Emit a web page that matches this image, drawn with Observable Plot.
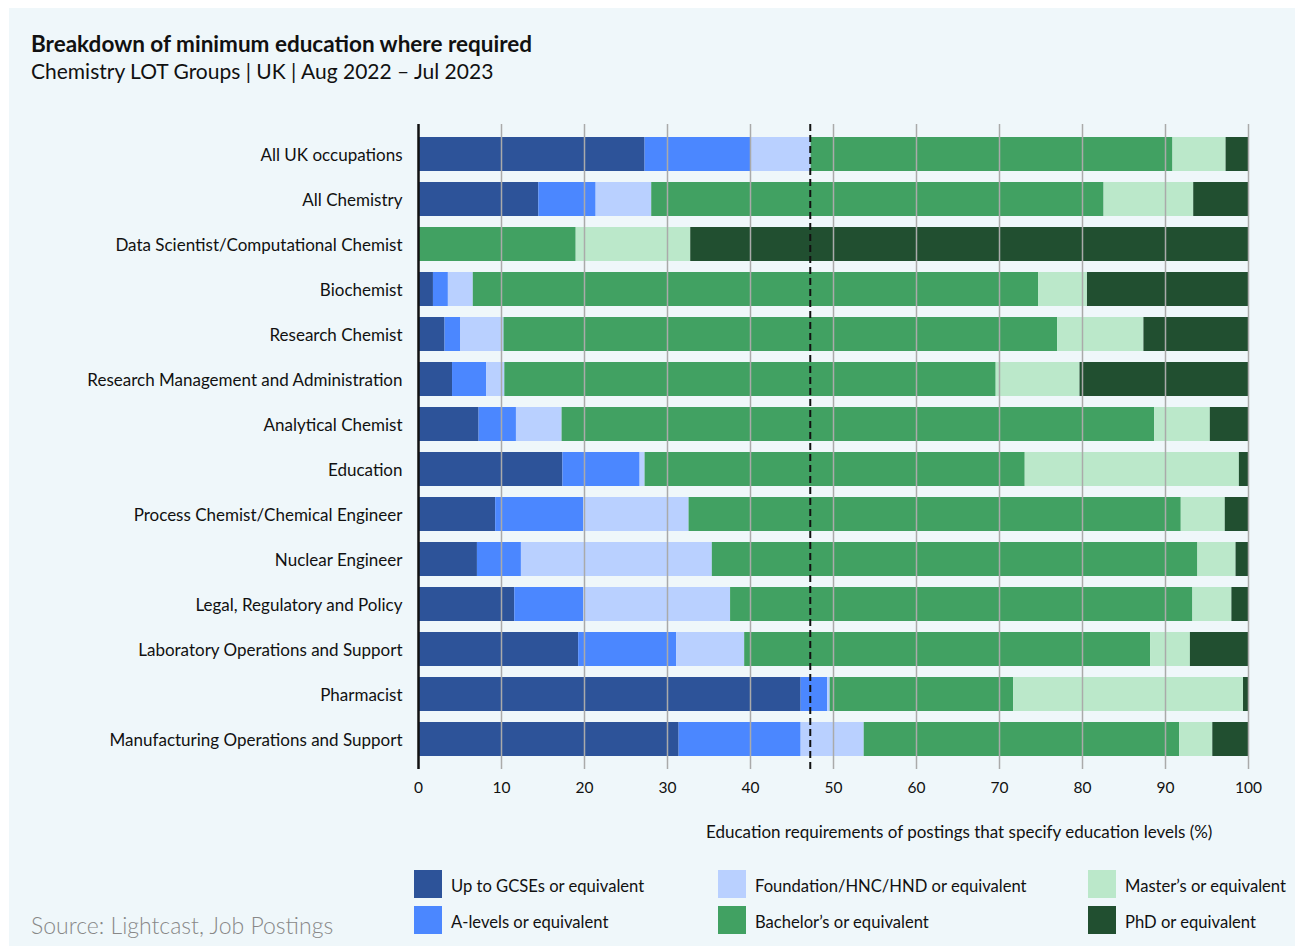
<!DOCTYPE html>
<html>
<head>
<meta charset="utf-8">
<script src="https://cdn.jsdelivr.net/npm/d3@7"></script>
<script src="https://cdn.jsdelivr.net/npm/@observablehq/plot@0.6"></script>
<style>
  html, body { margin: 0; padding: 0; background: #ffffff; }
  body { font-family: Lato, "Noto Sans", sans-serif; }
  #wrap { position: relative; width: 1300px; height: 947px; overflow: hidden; }
  #panel { position: absolute; left: 9px; top: 8px; width: 1286px; height: 938px; background: #eff7fa; }
  #title { position: absolute; left: 31px; top: 30px; font-size: 22.5px; font-weight: 700; color: #111; }
  #subtitle { position: absolute; left: 31px; top: 58px; font-size: 21px; color: #111; }
  #chart { position: absolute; left: 0; top: 0; }
  #xlabel { position: absolute; left: 706px; top: 821px; font-size: 17px; color: #111; white-space: nowrap; }
  #source { position: absolute; left: 31px; top: 911px; font-size: 23px; font-weight: 300; color: #888; }
  .leg { position: absolute; display: flex; align-items: center; font-size: 16.6px; color: #111; white-space: nowrap; }
  .leg .sw { width: 28px; height: 28px; margin-right: 9px; }
  .leg span { position: relative; top: 2px; }
</style>
</head>
<body>
<div id="wrap">
  <div id="panel"></div>
  <div id="title">Breakdown of minimum education where required</div>
  <div id="subtitle">Chemistry LOT Groups | UK | Aug 2022 – Jul 2023</div>
  <div id="chart"></div>
  <div id="xlabel">Education requirements of postings that specify education levels (%)</div>
  <div id="source">Source: Lightcast, Job Postings</div>
  <div id="legend"></div>
</div>
<script>
const categories = [
  "All UK occupations",
  "All Chemistry",
  "Data Scientist/Computational Chemist",
  "Biochemist",
  "Research Chemist",
  "Research Management and Administration",
  "Analytical Chemist",
  "Education",
  "Process Chemist/Chemical Engineer",
  "Nuclear Engineer",
  "Legal, Regulatory and Policy",
  "Laboratory Operations and Support",
  "Pharmacist",
  "Manufacturing Operations and Support"
];
const seriesNames = [
  "Up to GCSEs or equivalent",
  "A-levels or equivalent",
  "Foundation/HNC/HND or equivalent",
  "Bachelor’s or equivalent",
  "Master’s or equivalent",
  "PhD or equivalent"
];
const seriesColors = ["#2d5399", "#4b87ff", "#b9d0ff", "#41a162", "#bbe8ca", "#214f30"];

const gcse       = [27.3, 14.5,  0.0,  1.8,  3.2,  4.1,  7.3, 17.4,  9.3,  7.1, 11.6, 19.3, 46.1, 31.4];
const aLevels    = [12.7,  6.9,  0.0,  1.8,  1.9,  4.1,  4.5,  9.3, 10.6,  5.3,  8.3, 11.8,  3.2, 14.7];
const foundation = [ 7.3,  6.7,  0.0,  3.0,  5.2,  2.2,  5.5,  0.6, 12.7, 23.0, 17.7,  8.2,  0.3,  7.6];
const bachelors  = [43.6, 54.5, 19.0, 68.1, 66.7, 59.2, 71.4, 45.8, 59.3, 58.5, 55.7, 48.9, 22.1, 38.0];
const masters    = [ 6.4, 10.8, 13.8,  5.9, 10.4, 10.1,  6.7, 25.8,  5.3,  4.6,  4.7,  4.8, 27.7,  4.0];
const phd        = [ 2.7,  6.6, 67.2, 19.4, 12.6, 20.3,  4.6,  1.1,  2.8,  1.5,  2.0,  7.0,  0.6,  4.3];

const allUkAverage = 47.2;
const xTicks = [0, 10, 20, 30, 40, 50, 60, 70, 80, 90, 100];

const seriesValues = [gcse, aLevels, foundation, bachelors, masters, phd];
const rows = [];
categories.forEach((cat, i) => {
  seriesNames.forEach((s, j) => {
    rows.push({category: cat, series: s, value: seriesValues[j][i], order: j});
  });
});

const chart = Plot.plot({
  width: 1300,
  height: 800,
  marginLeft: 418,
  marginRight: 52,
  marginTop: 124,
  marginBottom: 31,
  style: {background: "transparent", fontFamily: "Lato, 'Noto Sans', sans-serif", color: "#111"},
  x: {domain: [0, 100], ticks: xTicks, label: null},
  y: {domain: categories, label: null, paddingInner: 0.25, paddingOuter: 0.27},
  color: {domain: seriesNames, range: seriesColors},
  marks: [
    Plot.barX(rows, Plot.stackX({
      y: "category",
      x: "value",
      fill: "series",
      order: "order"
    })),
    Plot.gridX(xTicks.filter(d => d > 0), {stroke: "#aaaaaa", strokeOpacity: 1, strokeWidth: 1.5}),
    Plot.ruleX([allUkAverage], {stroke: "#111", strokeWidth: 2, strokeDasharray: "7,4"}),
    Plot.ruleX([0], {stroke: "#111", strokeWidth: 2.5}),
    Plot.axisX({ticks: xTicks, tickSize: 0, tickPadding: 12, fontSize: 15.5, label: null}),
    Plot.axisY({tickSize: 0, tickPadding: 16, fontSize: 17, dy: 1.5, label: null})
  ]
});
document.getElementById("chart").appendChild(chart);

// Legend
const legendPos = [
  {x: 414, y: 870}, {x: 414, y: 906},
  {x: 718, y: 870}, {x: 718, y: 906},
  {x: 1088, y: 870}, {x: 1088, y: 906}
];
const legend = document.getElementById("legend");
seriesNames.forEach((name, j) => {
  const d = document.createElement("div");
  d.className = "leg";
  d.style.left = legendPos[j].x + "px";
  d.style.top = legendPos[j].y + "px";
  const sw = document.createElement("div");
  sw.className = "sw";
  sw.style.background = seriesColors[j];
  const t = document.createElement("span");
  t.textContent = name;
  d.appendChild(sw);
  d.appendChild(t);
  legend.appendChild(d);
});
</script>
</body>
</html>
